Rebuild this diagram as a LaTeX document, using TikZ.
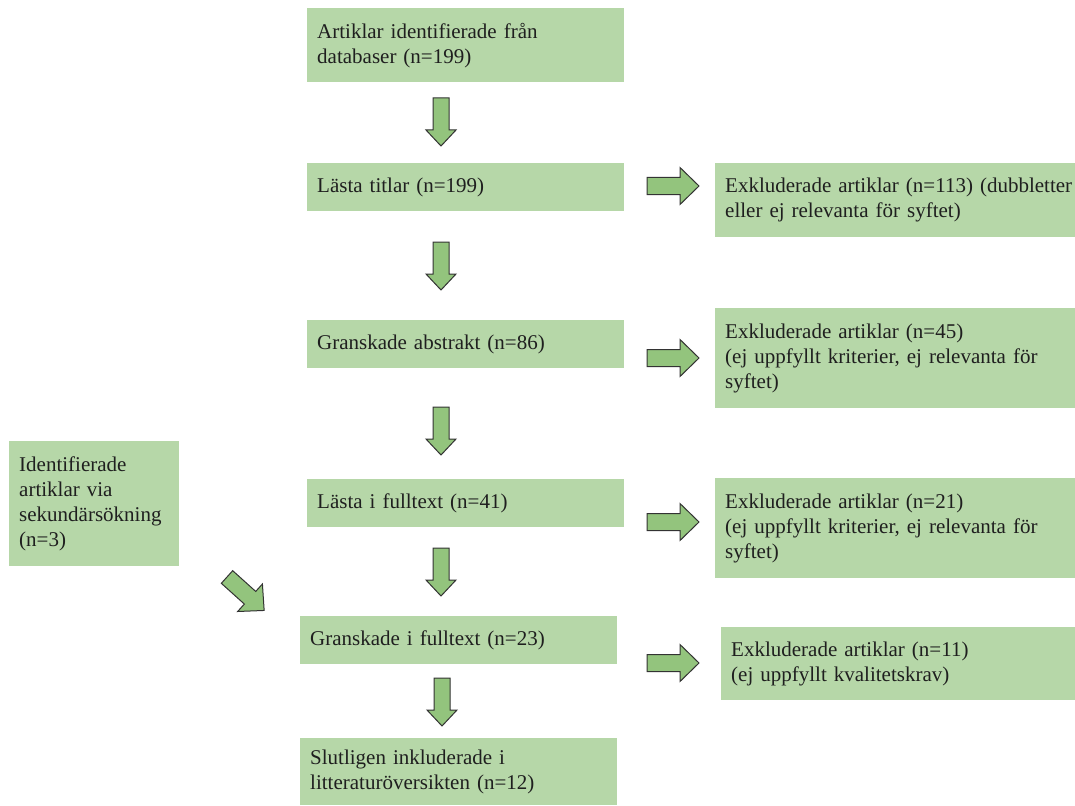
\documentclass[tikz,border=0pt]{standalone}
\usepackage{fontspec}
\setmainfont{Liberation Serif}
\definecolor{boxgreen}{HTML}{B6D7A8}
\definecolor{arrgreen}{HTML}{93C47D}
\definecolor{arredge}{HTML}{333333}
\definecolor{txt}{HTML}{1F1F1F}
\newcommand{\boxfont}{\fontsize{21}{25}\selectfont\hyphenpenalty=10000\relax\exhyphenpenalty=10000\relax}
\tikzset{
  box/.style={rectangle, fill=boxgreen, draw=none, anchor=north west, inner xsep=10pt, inner ysep=0pt,
    align=left, text=txt, font=\boxfont},
  blockarrow/.style={fill=arrgreen, draw=arredge, line width=1pt, line join=miter},
}
% \barrow{x}{y}{angle}{length}{shaft}{headwidth}{headlength}
\newcommand{\barrow}[7]{%
  \begin{scope}[shift={(#1,#2)}, rotate=#3]
    \draw[blockarrow] (0,-#5/2) -- (#4-#7,-#5/2) -- (#4-#7,-#6/2) -- (#4,0) -- (#4-#7,#6/2) -- (#4-#7,#5/2) -- (0,#5/2) -- cycle;
  \end{scope}}
\newcommand{\mkbox}[6]{% name, x1, y1, x2, y2, text
  \pgfmathsetmacro{\bw}{#4-#2}\pgfmathsetmacro{\bh}{#5-#3}\pgfmathsetmacro{\tw}{#4-#2-20}
  \node[box, minimum width=\bw pt, minimum height=\bh pt, text width=\tw pt] (#1) at (#2,#3) {#6};}
% box at the right edge of the page: text may reach the box's right edge
\newcommand{\mkedgebox}[6]{%
  \pgfmathsetmacro{\bw}{#4-#2}\pgfmathsetmacro{\bh}{#5-#3}\pgfmathsetmacro{\tw}{#4-#2-10}
  \node[box, minimum width=\bw pt, minimum height=\bh pt, text width=\tw pt] (#1) at (#2,#3) {#6};}
\begin{document}
\begin{tikzpicture}[x=1pt, y=-1pt]
\useasboundingbox (0,0) rectangle (1075,805);
\mkbox{b1}{307}{8}{624}{82}{Artiklar identifierade från\\databaser (n=199)}
\mkbox{b2}{307}{163}{624}{211}{Lästa titlar (n=199)}
\mkbox{b3}{307}{320}{624}{368}{Granskade abstrakt (n=86)}
\mkbox{b4}{307}{479}{624}{527}{Lästa i fulltext (n=41)}
\mkbox{b5}{300}{616}{617}{664}{Granskade i fulltext (n=23)}
\mkbox{b6}{300}{738}{617}{805}{Slutligen inkluderade i\\litteraturöversikten (n=12)}
\mkedgebox{e1}{715}{163}{1075}{237}{Exkluderade artiklar (n=113) (dubbletter\\eller ej relevanta för syftet)}
\mkedgebox{e2}{715}{308}{1075}{408}{Exkluderade artiklar (n=45)\\(ej uppfyllt kriterier, ej relevanta för\\syftet)}
\mkedgebox{e3}{715}{478}{1075}{578}{Exkluderade artiklar (n=21)\\(ej uppfyllt kriterier, ej relevanta för\\syftet)}
\mkedgebox{e4}{721}{627}{1075}{700}{Exkluderade artiklar (n=11)\\(ej uppfyllt kvalitetskrav)}
\mkbox{s1}{9}{441}{179}{566}{Identifierade\\artiklar via\\sekundärsökning\\(n=3)}
% down arrows
\barrow{441}{98}{-90}{48}{16}{30}{16}
\barrow{441}{242}{-90}{48}{16}{30}{16}
\barrow{441}{407}{-90}{48}{16}{30}{16}
\barrow{441}{548}{-90}{48}{16}{30}{16}
\barrow{442}{678}{-90}{48}{16}{30}{16}
% right arrows
\barrow{647}{186}{0}{52}{17}{37}{19}
\barrow{647}{358}{0}{52}{17}{37}{19}
\barrow{647}{522}{0}{52}{17}{37}{19}
\barrow{647}{663}{0}{52}{17}{37}{19}
% diagonal arrow
\barrow{227}{577}{-42}{50}{17}{37}{19}
\end{tikzpicture}
\end{document}
